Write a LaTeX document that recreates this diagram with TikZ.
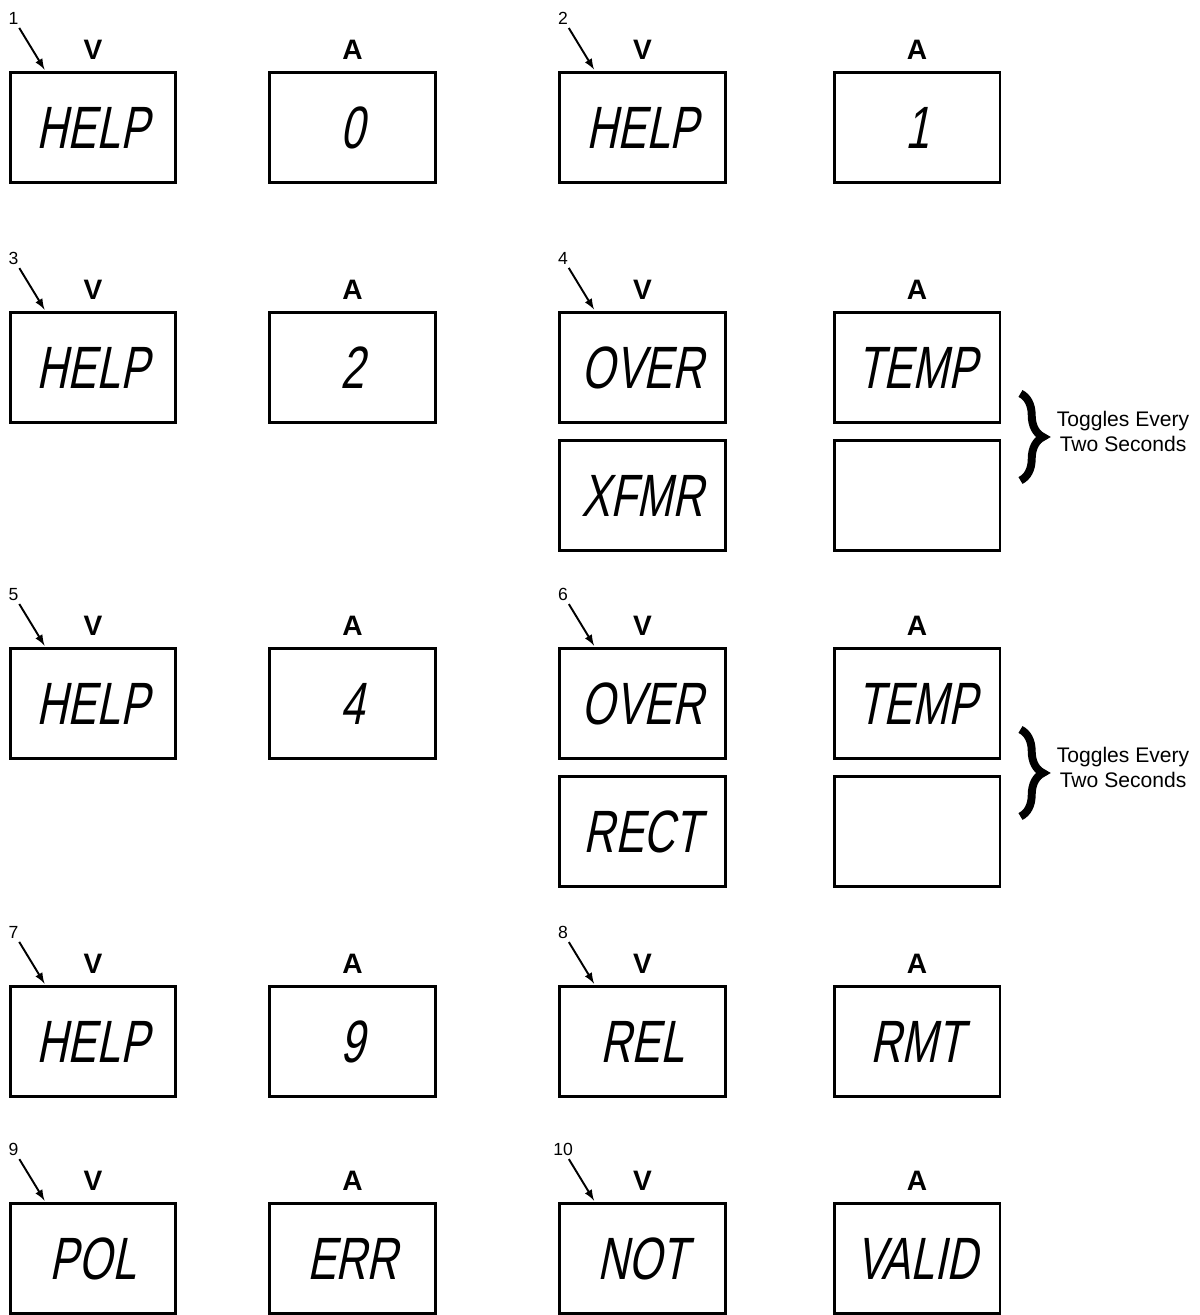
\documentclass[tikz,border=0pt]{standalone}
\usepackage{fontspec}
\setmainfont{Liberation Sans}
\newfontfamily\lcdfont[FakeSlant=0.2,FakeStretch=0.72]{Liberation Sans}
\usetikzlibrary{positioning,calc,decorations.pathreplacing}
\tikzset{
  display/.style={draw,line width=1.7pt,minimum width=3.32cm,minimum height=2.2cm,inner sep=0pt,font=\lcdfont\fontsize{34}{34}\selectfont},
  lbl/.style={inner sep=0pt,font=\bfseries\fontsize{16}{18}\selectfont},
  num/.style={inner sep=0pt,font=\fontsize{10}{12}\selectfont},
  ptr/.style={-latex,line width=1.1pt,shorten <=2pt},
  brc/.style={decorate,decoration={brace,amplitude=0.45cm},line width=4.5pt},
  nota/.style={align=center,inner sep=0pt,font=\fontsize{12}{14}\selectfont}
}
\begin{document}
\begin{tikzpicture}[x=0.02cm,y=-0.02cm]
    \useasboundingbox (0,0) rectangle (1200,1315);
    %display V e A con numero e freccia
    \foreach \n/\xv/\xa/\y/\tv/\ta in {1/93/352.5/127.5/HELP/0, 2/642.5/917/127.5/HELP/1,
        3/93/352.5/367.5/HELP/2, 4/642.5/917/367.5/OVER/TEMP,
        5/93/352.5/703.5/HELP/4, 6/642.5/917/703.5/OVER/TEMP,
        7/93/352.5/1041.5/HELP/9, 8/642.5/917/1041.5/REL/RMT,
        9/93/352.5/1258.5/POL/ERR, 10/642.5/917/1258.5/NOT/VALID}{
        \node[display] (v\n) at (\xv,\y) {\tv};
        \node[display] (a\n) at (\xa,\y) {\ta};
        \node[lbl,above=6.5pt of v\n] (lv\n) {V};
        \node[lbl,above=6.5pt of a\n] (la\n) {A};
        \node[num] (n\n) at ([shift={(0.1cm,1.05cm)}]v\n.north west) {\n};
        \coordinate (t\n) at ([shift={(0.72cm,0.03cm)}]v\n.north west);
        \draw[ptr] (n\n) -- (t\n);
    }
    %secondo display che si alterna
    \node[display,below=0.3cm of v4] (v4b) {XFMR};
    \node[display,below=0.3cm of a4] (a4b) {};
    \node[display,below=0.3cm of v6] (v6b) {RECT};
    \node[display,below=0.3cm of a6] (a6b) {};
    %graffe e nota
    \coordinate (m4) at ($(a4.south east)!0.5!(a4b.north east)$);
    \coordinate (m6) at ($(a6.south east)!0.5!(a6b.north east)$);
    \draw[brc] ([shift={(0.38cm,0.76cm)}]m4) -- ([shift={(0.38cm,-0.98cm)}]m4);
    \draw[brc] ([shift={(0.38cm,0.76cm)}]m6) -- ([shift={(0.38cm,-0.98cm)}]m6);
    \node[nota,anchor=west] (txt4) at ([xshift=1.1cm]m4) {Toggles Every\\Two Seconds};
    \node[nota,anchor=west] (txt6) at ([xshift=1.1cm]m6) {Toggles Every\\Two Seconds};
\end{tikzpicture}
\end{document}
